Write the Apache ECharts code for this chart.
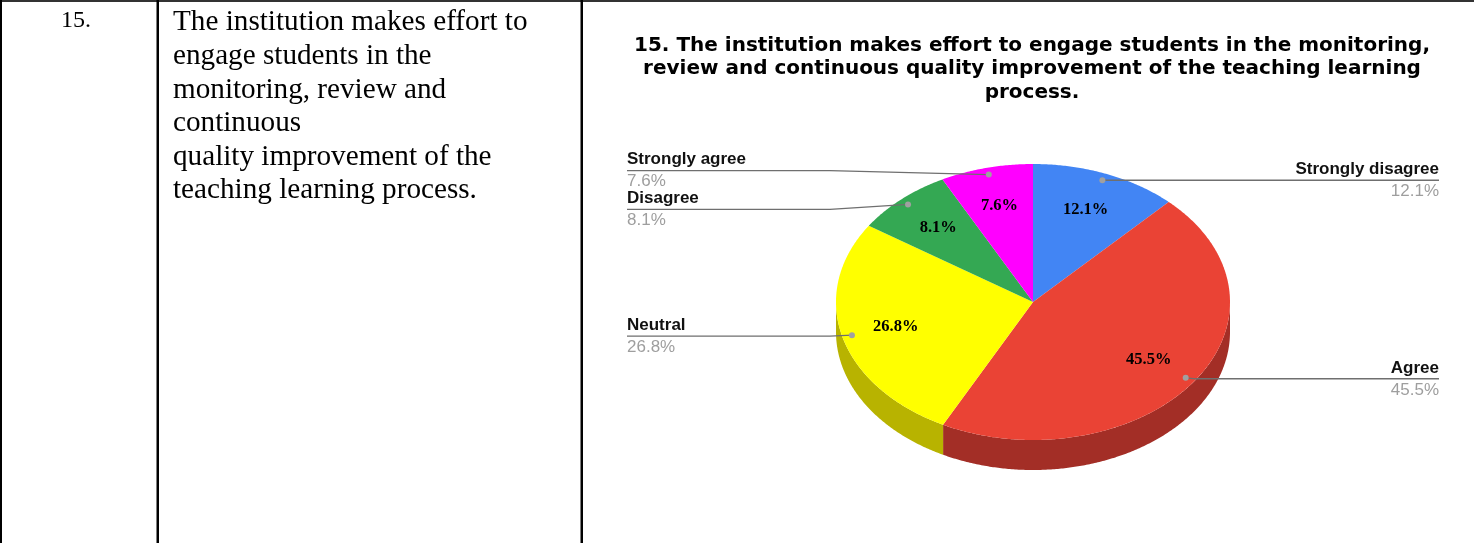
<!DOCTYPE html>
<html>
<head>
<meta charset="utf-8">
<script src="https://cdn.jsdelivr.net/npm/echarts@6/dist/echarts.min.js"></script>
<style>
html,body{margin:0;padding:0;background:#fff;}
#chart{width:1474px;height:543px;}
</style>
</head>
<body>
<div id="chart"></div>
<script>
// ---- data ----
const categories = ['Strongly disagree', 'Agree', 'Neutral', 'Disagree', 'Strongly agree'];
const values = [12.1, 45.5, 26.8, 8.1, 7.6];
const rowNumber = '15.';
const rowText = ['The institution makes effort to', 'engage students in the', 'monitoring, review and', 'continuous', 'quality improvement of the', 'teaching learning process.'];
const titleLines = ['15. The institution makes effort to engage students in the monitoring,', 'review and continuous quality improvement of the teaching learning', 'process.'];

// ---- style / layout ----
const topColors = ['#4285f4', '#ea4335', '#ffff00', '#34a853', '#ff00ff'];
const sideColors = ['#2e5daa', '#a32e26', '#b8b300', '#247539', '#b300b3'];
const labelSide = ['right', 'right', 'left', 'left', 'left'];
const labelLineShift = [0, 1, 1, 5, -4];
const PIE = { cx: 1033, cy: 302, rx: 197, ry: 138, depth: 30 };
const LEFT_X = 627, RIGHT_X = 1439, ELBOW_LEFT = 830;

const total = values.reduce((a, b) => a + b, 0);
const starts = [];
{ let acc = 0; values.forEach(v => { starts.push(acc); acc += v; }); }

function pt(deg, frac, dy) {
  const r = deg * Math.PI / 180;
  return [PIE.cx + frac * PIE.rx * Math.sin(r), PIE.cy + (dy || 0) - frac * PIE.ry * Math.cos(r)];
}
function arc(a0, a1, dy) {
  const pts = [];
  const n = Math.max(2, Math.ceil(Math.abs(a1 - a0) / 0.5));
  for (let k = 0; k <= n; k++) pts.push(pt(a0 + (a1 - a0) * k / n, 1, dy));
  return pts;
}

function renderItem(params, api) {
  const i = params.dataIndex;
  const v = api.value(0);
  const a0 = starts[i] / total * 360;
  const a1 = a0 + v / total * 360;
  const mid = (a0 + a1) / 2;
  const pctText = (v / total * 100).toFixed(1) + '%';
  const children = [];
  // side band (front half only)
  const s0 = Math.max(a0, 90), s1 = Math.min(a1, 270);
  if (s1 > s0) {
    const pts = arc(s0, s1, 0).concat(arc(s1, s0, PIE.depth));
    children.push({ type: 'polygon', shape: { points: pts }, style: { fill: sideColors[i] }, z2: 1 });
  }
  // top face
  const top = [[PIE.cx, PIE.cy]].concat(arc(a0, a1, 0));
  children.push({ type: 'polygon', shape: { points: top }, style: { fill: topColors[i] }, z2: 2 });
  // inside label
  const lp = pt(mid, 0.72);
  children.push({ type: 'text', x: lp[0], y: lp[1], z2: 5,
    style: { text: pctText, fill: '#000', font: 'bold 16.5px "Liberation Serif", "Times New Roman", serif', align: 'center', verticalAlign: 'middle' } });
  // dot + leader line
  const dp = pt(mid, 0.95);
  const ly = dp[1] + labelLineShift[i];
  let linePts;
  if (labelSide[i] === 'left') {
    linePts = [[dp[0], dp[1]], [ELBOW_LEFT, ly], [LEFT_X, ly]];
  } else {
    linePts = [[dp[0], dp[1]], [dp[0] + 10, ly], [RIGHT_X, ly]];
  }
  children.push({ type: 'polyline', shape: { points: linePts }, style: { stroke: '#6f6f6f', lineWidth: 1.4, fill: null }, z2: 6 });
  children.push({ type: 'circle', shape: { cx: dp[0], cy: dp[1], r: 3 }, style: { fill: '#a0a0a0' }, z2: 7 });
  const tx = labelSide[i] === 'left' ? LEFT_X : RIGHT_X;
  const al = labelSide[i];
  children.push({ type: 'text', x: tx, y: ly - 11, z2: 7,
    style: { text: categories[i], fill: '#111', font: 'bold 17px "Liberation Sans", Arial, sans-serif', align: al, verticalAlign: 'middle' } });
  children.push({ type: 'text', x: tx, y: ly + 11, z2: 7,
    style: { text: pctText, fill: '#9e9e9e', font: '17px "Liberation Sans", Arial, sans-serif', align: al, verticalAlign: 'middle' } });
  return { type: 'group', children };
}

const graphics = [
  { type: 'rect', shape: { x: 0, y: 0, width: 1474, height: 2 }, style: { fill: '#333' } },
  { type: 'rect', shape: { x: 0, y: 0, width: 2, height: 543 }, style: { fill: '#000' } },
  { type: 'rect', shape: { x: 156.5, y: 0, width: 2.5, height: 543 }, style: { fill: '#000' } },
  { type: 'rect', shape: { x: 580.5, y: 0, width: 2.5, height: 543 }, style: { fill: '#000' } },
  { type: 'text', x: 76, y: 21, style: { text: rowNumber, fill: '#000', font: '24px "Liberation Serif", "Times New Roman", serif', align: 'center', verticalAlign: 'middle' } },
  { type: 'text', x: 173, y: 6, style: { text: rowText.join('\n'), fill: '#000', font: '29.2px "Liberation Serif", "Times New Roman", serif', lineHeight: 33.6, align: 'left', verticalAlign: 'top' } },
  { type: 'text', x: 1032, y: 34, style: { text: titleLines.join('\n'), fill: '#000', font: 'bold 20px "DejaVu Sans", sans-serif', lineHeight: 23.5, align: 'center', verticalAlign: 'top' } }
];

const chart = echarts.init(document.getElementById('chart'), null, { renderer: 'canvas' });
chart.setOption({
  animation: false,
  graphic: graphics,
  series: [{
    type: 'custom',
    coordinateSystem: 'none',
    data: values.map((v, i) => ({ name: categories[i], value: v })),
    renderItem: renderItem
  }]
});
</script>
</body>
</html>
